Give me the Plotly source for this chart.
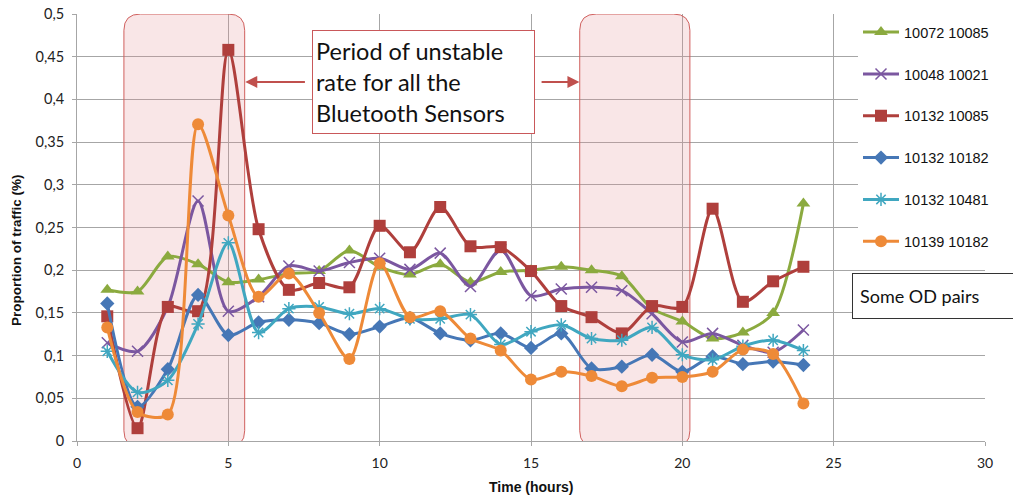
import plotly.graph_objects as go

hours = list(range(1, 25))

series_names = ["10072 10085", "10048 10021", "10132 10085",
                "10132 10182", "10132 10481", "10139 10182"]

s_10072_10085 = [0.177, 0.175, 0.216, 0.207, 0.186, 0.189, 0.196, 0.199, 0.223, 0.204, 0.195, 0.207,
                 0.186, 0.198, 0.200, 0.204, 0.200, 0.193, 0.155, 0.140, 0.120, 0.127, 0.150, 0.278]
s_10048_10021 = [0.115, 0.105, 0.157, 0.281, 0.152, 0.169, 0.205, 0.199, 0.209, 0.214, 0.201, 0.220,
                 0.181, 0.224, 0.170, 0.178, 0.180, 0.176, 0.149, 0.116, 0.126, 0.112, 0.104, 0.130]
s_10132_10085 = [0.146, 0.015, 0.157, 0.152, 0.458, 0.248, 0.177, 0.185, 0.180, 0.252, 0.221, 0.274,
                 0.228, 0.227, 0.199, 0.158, 0.145, 0.126, 0.158, 0.157, 0.272, 0.163, 0.187, 0.204]
s_10132_10182 = [0.161, 0.040, 0.084, 0.171, 0.124, 0.139, 0.142, 0.138, 0.125, 0.134, 0.144, 0.126,
                 0.118, 0.126, 0.109, 0.126, 0.085, 0.087, 0.101, 0.081, 0.099, 0.090, 0.093, 0.089]
s_10132_10481 = [0.105, 0.057, 0.071, 0.137, 0.232, 0.127, 0.155, 0.157, 0.149, 0.155, 0.143, 0.143,
                 0.148, 0.113, 0.128, 0.136, 0.120, 0.118, 0.133, 0.101, 0.095, 0.111, 0.118, 0.106]
s_10139_10182 = [0.133, 0.034, 0.031, 0.371, 0.264, 0.169, 0.196, 0.150, 0.096, 0.208, 0.145, 0.152,
                 0.120, 0.106, 0.072, 0.081, 0.076, 0.064, 0.074, 0.075, 0.081, 0.107, 0.102, 0.044]

series_values = [s_10072_10085, s_10048_10021, s_10132_10085,
                 s_10132_10182, s_10132_10481, s_10139_10182]

x_tickvals = [0, 5, 10, 15, 20, 25, 30]
x_ticktext = ["0", "5", "10", "15", "20", "25", "30"]
y_tickvals = [0, 0.05, 0.1, 0.15, 0.2, 0.25, 0.3, 0.35, 0.4, 0.45, 0.5]
y_ticktext = ["0", "0,05", "0,1", "0,15", "0,2", "0,25", "0,3", "0,35", "0,4", "0,45", "0,5"]

colors = ["#8BAA3F", "#7B57A0", "#AF3F3C", "#4677B6", "#40A7C0", "#EE8A38"]
symbols = ["triangle-up", "x-thin-open", "square", "diamond", "asterisk-open", "circle"]
sizes = [12, 11, 12, 11, 11, 12]

fig = go.Figure()
for i, (name, vals) in enumerate(zip(series_names, series_values)):
    open_sym = symbols[i].endswith("open")
    fig.add_trace(go.Scatter(
        x=hours, y=vals, name=name, mode="lines+markers",
        line=dict(color=colors[i], width=3, shape="spline", smoothing=0.8),
        marker=dict(symbol=symbols[i], size=sizes[i], color=colors[i],
                    line=dict(color=colors[i], width=1.5 if open_sym else 0)),
        legendgroup=f"g{i}",
    ))

L, T, W, H = 77, 14, 908, 427

# rounded translucent highlight boxes
def rounded_rect(x0, x1, y0, y1, rx=0.55, ry=0.019):
    return (f"M {x0+rx},{y1} L {x1-rx},{y1} Q {x1},{y1} {x1},{y1-ry} "
            f"L {x1},{y0+ry} Q {x1},{y0} {x1-rx},{y0} L {x0+rx},{y0} "
            f"Q {x0},{y0} {x0},{y0+ry} L {x0},{y1-ry} Q {x0},{y1} {x0+rx},{y1} Z")

for (x0, x1) in [(1.55, 5.54), (16.61, 20.25)]:
    fig.add_shape(type="path", path=rounded_rect(x0, x1, -0.007, 0.5),
                  xref="x", yref="y", layer="between",
                  fillcolor="rgba(226,140,145,0.22)",
                  line=dict(color="#D0605E", width=1))

# callout box
fig.add_annotation(x=11.44, y=0.4205, xref="x", yref="y",
                   text="Period of unstable<br>rate for all the<br>Bluetooth Sensors",
                   showarrow=False, align="left", width=215, height=96,
                   bgcolor="white", bordercolor="#C9585A", borderwidth=1, borderpad=3,
                   font=dict(family="Lato, Open Sans, sans-serif", size=23.5, color="#111"))
# arrows
fig.add_annotation(x=5.56, y=0.4205, ax=7.58, ay=0.4205, xref="x", yref="y",
                   axref="x", ayref="y", text="", showarrow=True, arrowhead=2,
                   arrowsize=1.2, arrowwidth=2, arrowcolor="#C0504D")
fig.add_annotation(x=16.6, y=0.4205, ax=15.3, ay=0.4205, xref="x", yref="y",
                   axref="x", ayref="y", text="", showarrow=True, arrowhead=2,
                   arrowsize=1.2, arrowwidth=2, arrowcolor="#C0504D")

# "Some OD pairs" box
fig.add_annotation(x=(852 - L) / W, y=(T + H - 296) / H, xref="paper", yref="paper",
                   text="Some OD pairs",
                   showarrow=False, align="left", xanchor="left", yanchor="middle",
                   width=152, height=30, bgcolor="white", bordercolor="#333",
                   borderwidth=1, borderpad=7,
                   font=dict(family="Lato, Open Sans, sans-serif", size=18, color="#111"))

# axis titles
fig.add_annotation(x=(17 - L) / W, y=(T + H - 250) / H, xref="paper", yref="paper",
                   xanchor="center", yanchor="middle",
                   text="<b>Proportion of traffic (%)</b>", textangle=-90, showarrow=False,
                   font=dict(family="Liberation Sans, Arial, sans-serif", size=13.5, color="#111"))
fig.add_annotation(x=(531 - L) / W, y=(T + H - 487) / H, xref="paper", yref="paper",
                   xanchor="center", yanchor="middle",
                   text="<b>Time (hours)</b>", showarrow=False,
                   font=dict(family="Liberation Sans, Arial, sans-serif", size=14, color="#111"))

fig.update_layout(
    width=1013, height=498,
    margin=dict(l=L, r=1013 - L - W, t=T, b=498 - T - H, autoexpand=False),
    paper_bgcolor="white", plot_bgcolor="white",
    showlegend=True,
    legend=dict(x=(858 - L) / W, y=0.995, xanchor="left", yanchor="top",
                bgcolor="white", borderwidth=0, tracegroupgap=20,
                font=dict(family="Liberation Sans, Arial, sans-serif", size=14.5, color="#111"),
                itemwidth=36),
    xaxis=dict(range=[0, 30], tickvals=x_tickvals, ticktext=x_ticktext,
               showgrid=True, gridcolor="#A6A6A6", gridwidth=1,
               showline=True, linecolor="#A6A6A6", linewidth=1,
               ticks="outside", ticklen=4, tickcolor="#A6A6A6",
               ticklabelstandoff=5, zeroline=False,
               tickfont=dict(family="Lato, Open Sans, sans-serif", size=14, color="#222")),
    yaxis=dict(range=[0, 0.5], tickvals=y_tickvals, ticktext=y_ticktext,
               showgrid=True, gridcolor="#A6A6A6", gridwidth=1,
               showline=True, linecolor="#A6A6A6", linewidth=1,
               ticks="outside", ticklen=4, tickcolor="#A6A6A6",
               ticklabelstandoff=5, zeroline=False,
               tickfont=dict(family="Lato, Open Sans, sans-serif", size=14.5, color="#222")),
)

fig.write_html("out.html", config={"displayModeBar": False},
               post_script="document.body.style.margin='0px';")
